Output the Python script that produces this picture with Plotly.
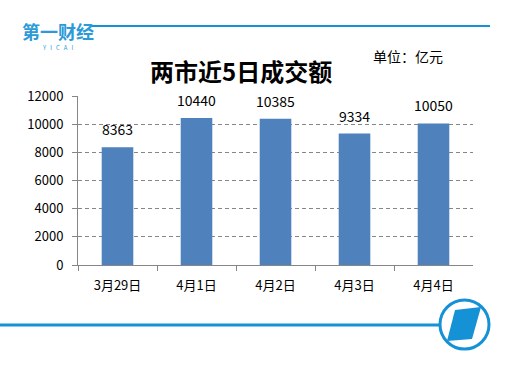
import plotly.graph_objects as go

categories = ["3月29日", "4月1日", "4月2日", "4月3日", "4月4日"]
values = [8363, 10440, 10385, 9334, 10050]
y_ticks = [0, 2000, 4000, 6000, 8000, 10000, 12000]

W, H = 519, 365
def px(x): return x / W
def py(y): return 1 - y / H

BLUE = "#1591D6"
FONT = "Noto Sans CJK SC, Microsoft YaHei, sans-serif"

fig = go.Figure(go.Bar(
    x=categories, y=values, width=0.4,
    marker=dict(color="#4F81BD", line=dict(width=0)),
))

label_annotations = [
    dict(x=c, y=v, xref="x", yref="y", text=str(v), showarrow=False,
         yanchor="bottom", xanchor="center", yshift=6,
         font=dict(size=14, color="#000000", family=FONT))
    for c, v in zip(categories, values)
]

fig.update_layout(
    width=W, height=H, margin=dict(l=0, r=0, t=0, b=0, autoexpand=False),
    paper_bgcolor="white", plot_bgcolor="white", showlegend=False,
    font=dict(family=FONT, color="#000000"),
    xaxis=dict(domain=[px(78), px(473)], showline=True, linecolor="#868686", linewidth=1,
               ticks="outside", ticklen=5, tickcolor="#868686", tickson="boundaries",
               tickfont=dict(size=13), showgrid=False, automargin=False,
               ticklabelstandoff=8),
    yaxis=dict(domain=[py(265), py(96)], range=[0, 12000], tickvals=y_ticks,
               ticktext=[str(t) for t in y_ticks],
               showline=True, linecolor="#868686", linewidth=1,
               ticks="outside", ticklen=5, tickcolor="#868686",
               showgrid=True, gridcolor="#868686", griddash="4px,3px", gridwidth=1,
               tickfont=dict(size=13), zeroline=False, automargin=False,
               ticklabelstandoff=6),
    annotations=label_annotations + [
        dict(text="<b>两市近5日成交额</b>", x=px(241), y=py(70), xref="paper", yref="paper",
             showarrow=False, font=dict(size=24, color="#000000"), xanchor="center", yanchor="middle"),
        dict(text="单位：亿元", x=px(408), y=py(56), xref="paper", yref="paper",
             showarrow=False, font=dict(size=14, color="#000000"), xanchor="center", yanchor="middle"),
        dict(text="<b>第一财经</b>", x=px(58), y=py(31), xref="paper", yref="paper",
             showarrow=False, font=dict(size=18, color="#2A9AD8"), xanchor="center", yanchor="middle"),
        dict(text="Y   I   C   A   I", x=px(58), y=py(47), xref="paper", yref="paper",
             showarrow=False, font=dict(size=6, color="#2A9AD8"), xanchor="center", yanchor="middle"),
    ],
    shapes=[
        dict(type="line", xref="paper", yref="paper", x0=px(90), x1=px(490), y0=py(26), y1=py(26),
             line=dict(color=BLUE, width=2)),
        dict(type="line", xref="paper", yref="paper", x0=px(0), x1=px(440), y0=py(325), y1=py(325),
             line=dict(color=BLUE, width=3)),
        dict(type="circle", xref="paper", yref="paper", x0=px(440), x1=px(489), y0=py(349), y1=py(300),
             line=dict(color=BLUE, width=3), fillcolor="white"),
        dict(type="path", xref="paper", yref="paper",
             path=f"M {px(455)} {py(310)} L {px(481)} {py(307)} L {px(472)} {py(339)} L {px(447)} {py(341)} Z",
             fillcolor=BLUE, line=dict(color=BLUE, width=0)),
    ],
)

fig.write_html("out.html", config={"displayModeBar": False},
               post_script="document.body.style.margin='0';")
